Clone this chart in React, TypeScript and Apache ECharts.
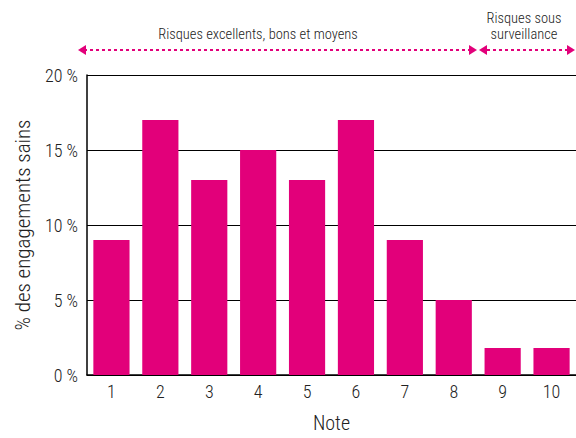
import React, { useEffect, useRef } from "react";
import * as echarts from "echarts";

const categories = ["1", "2", "3", "4", "5", "6", "7", "8", "9", "10"];
const values = [9, 17, 13, 15, 13, 17, 9, 5, 1.8, 1.8];
const yTicks = [0, 5, 10, 15, 20];
const annotation1 = "Risques excellents, bons et moyens";
const annotation2 = "Risques sous\nsurveillance";

const PINK = "#E2007A";
const FONT = "'Roboto Condensed', 'Liberation Sans Narrow', sans-serif";
const TXT = "#222";
const FW = 300;

function arrow(x: number, y: number, dir: number) {
  return {
    type: "polygon",
    shape: {
      points: [
        [x, y],
        [x - dir * 8, y - 5],
        [x - dir * 8, y + 5],
      ],
    },
    style: { fill: PINK },
  };
}

export default function App() {
  const ref = useRef<HTMLDivElement>(null);
  useEffect(() => {
    if (!ref.current) return;
    const chart = echarts.init(ref.current, null, { renderer: "svg" });
    const y0 = 50;
    chart.setOption({
      animation: false,
      backgroundColor: "#fff",
      grid: { left: 87, right: 0, top: 75, bottom: 57, containLabel: false },
      xAxis: {
        type: "category",
        data: categories,
        name: "Note",
        nameLocation: "middle",
        nameGap: 38,
        nameTextStyle: { fontFamily: FONT, fontSize: 20, fontWeight: FW, color: TXT },
        axisLine: { lineStyle: { color: "#000", width: 1.5 } },
        axisTick: { show: false },
        axisLabel: { fontFamily: FONT, fontSize: 18, fontWeight: FW, color: TXT, margin: 7 },
      },
      yAxis: {
        type: "value",
        min: 0,
        max: 20,
        interval: 5,
        name: "% des engagements sains",
        nameLocation: "middle",
        nameGap: 54,
        nameTextStyle: { fontFamily: FONT, fontSize: 21, fontWeight: FW, color: TXT },
        axisLine: { show: true, lineStyle: { color: "#000", width: 1.5 } },
        axisTick: { show: false },
        splitLine: { lineStyle: { color: "#000", width: 1.2 } },
        axisLabel: {
          fontFamily: FONT,
          fontSize: 18,
          fontWeight: FW,
          color: TXT,
          margin: 9,
          formatter: (v: number) => (yTicks.includes(v) ? `${v} %` : ""),
        },
      },
      series: [
        {
          type: "bar",
          data: values,
          barCategoryGap: "26%",
          itemStyle: { color: PINK },
        },
      ],
      graphic: [
        {
          type: "line",
          shape: { x1: 84, y1: y0, x2: 470, y2: y0 },
          style: { stroke: PINK, lineWidth: 2, lineDash: [3, 3] },
        },
        arrow(78, y0, -1),
        arrow(477, y0, 1),
        {
          type: "line",
          shape: { x1: 487, y1: y0, x2: 568, y2: y0 },
          style: { stroke: PINK, lineWidth: 2, lineDash: [3, 3] },
        },
        arrow(479, y0, -1),
        arrow(575, y0, 1),
        {
          type: "text",
          x: 258,
          y: 34,
          style: {
            text: annotation1,
            fontFamily: FONT,
            fontSize: 14.5,
            fontWeight: FW,
            fill: TXT,
            align: "center",
            verticalAlign: "middle",
          },
        },
        {
          type: "text",
          x: 524,
          y: 26,
          style: {
            text: annotation2,
            fontFamily: FONT,
            fontSize: 14.5,
            fontWeight: FW,
            lineHeight: 16,
            fill: TXT,
            align: "center",
            verticalAlign: "middle",
          },
        },
      ],
    });
    return () => chart.dispose();
  }, []);
  return (
    <div
      ref={ref}
      style={{ position: "absolute", left: 0, top: 0, width: 576, height: 438 }}
    />
  );
}
